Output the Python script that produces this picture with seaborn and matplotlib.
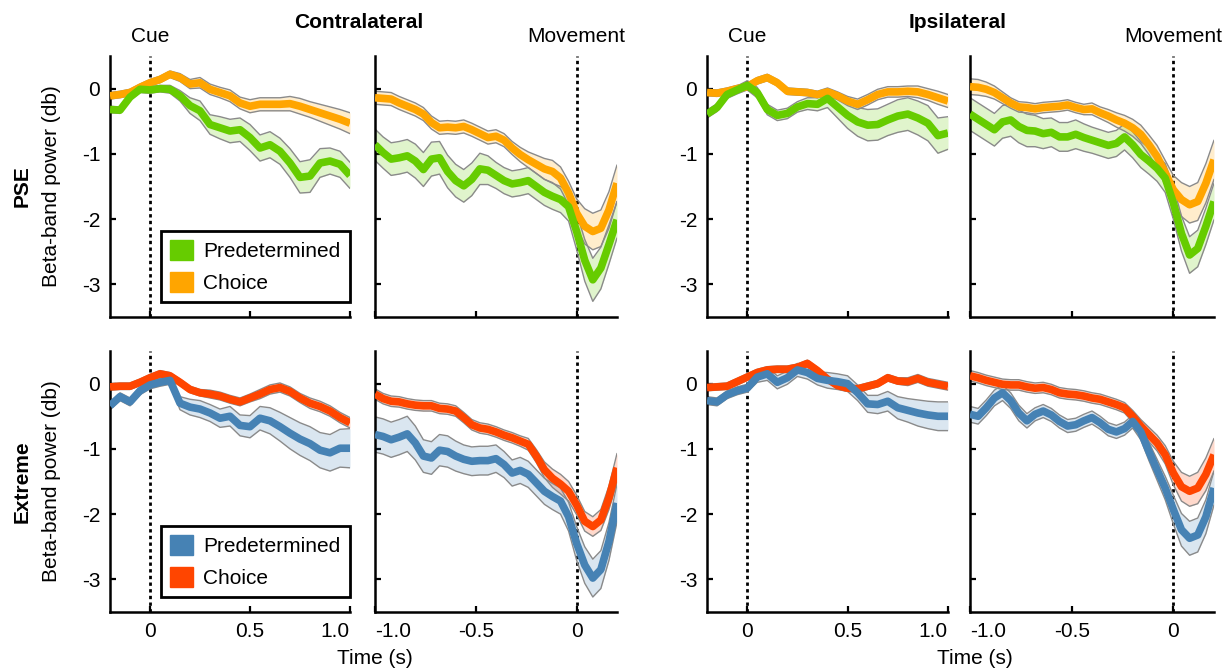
import numpy as np
import matplotlib
matplotlib.use("Agg")
import matplotlib.pyplot as plt
from matplotlib.patches import Patch
import seaborn as sns

# ---------------- data ----------------
t_cue = [-0.20, -0.15, -0.10, -0.05, 0.00, 0.05, 0.10, 0.15, 0.20, 0.25, 0.30, 0.35, 0.40,
         0.45, 0.50, 0.55, 0.60, 0.65, 0.70, 0.75, 0.80, 0.85, 0.90, 0.95, 1.00]
t_mov = [-1.00, -0.96, -0.92, -0.88, -0.84, -0.80, -0.76, -0.72, -0.68, -0.64, -0.60, -0.56,
         -0.52, -0.48, -0.44, -0.40, -0.36, -0.32, -0.28, -0.24, -0.20, -0.16, -0.12, -0.08,
         -0.04, 0.00, 0.04, 0.08, 0.12, 0.16, 0.20]

# PSE, contralateral, cue-locked
pse_contra_cue_pred = [-0.32, -0.33, -0.13, -0.01, -0.02, 0.00, -0.01, -0.11, -0.26, -0.34, -0.55, -0.60, -0.65,
                       -0.63, -0.75, -0.91, -0.86, -0.96, -1.14, -1.36, -1.34, -1.14, -1.11, -1.16, -1.33]
pse_contra_cue_pred_sem = [0.05, 0.05, 0.05, 0.05, 0.05, 0.05, 0.06, 0.08, 0.12, 0.15, 0.15, 0.17, 0.18,
                           0.18, 0.20, 0.20, 0.20, 0.20, 0.22, 0.24, 0.25, 0.22, 0.20, 0.20, 0.20]
pse_contra_cue_choice = [-0.11, -0.09, -0.06, 0.02, 0.09, 0.14, 0.22, 0.17, 0.07, 0.09, -0.01, -0.06, -0.11,
                         -0.22, -0.27, -0.24, -0.24, -0.24, -0.23, -0.27, -0.32, -0.37, -0.42, -0.47, -0.53]
pse_contra_cue_choice_sem = [0.05, 0.05, 0.05, 0.05, 0.05, 0.05, 0.05, 0.06, 0.07, 0.08, 0.08, 0.08, 0.09,
                             0.09, 0.10, 0.10, 0.10, 0.10, 0.11, 0.12, 0.12, 0.13, 0.14, 0.15, 0.16]

# PSE, contralateral, movement-locked
pse_contra_mov_pred = [-0.86, -0.98, -1.08, -1.06, -1.03, -1.11, -1.24, -1.08, -1.06, -1.27, -1.41, -1.49,
                       -1.39, -1.23, -1.25, -1.33, -1.41, -1.46, -1.44, -1.41, -1.50, -1.59, -1.65, -1.70,
                       -1.81, -2.19, -2.63, -2.93, -2.75, -2.39, -2.01]
pse_contra_mov_pred_sem = [0.24, 0.24, 0.25, 0.25, 0.25, 0.26, 0.26, 0.26, 0.25, 0.25, 0.25, 0.25, 0.25, 0.24,
                           0.22, 0.20, 0.20, 0.20, 0.20, 0.20, 0.20, 0.20, 0.20, 0.20, 0.22, 0.28, 0.32, 0.33,
                           0.32, 0.30, 0.28]
pse_contra_mov_choice = [-0.14, -0.15, -0.16, -0.22, -0.27, -0.32, -0.39, -0.52, -0.60, -0.59, -0.60, -0.58,
                         -0.63, -0.69, -0.75, -0.73, -0.79, -0.91, -1.01, -1.09, -1.16, -1.23, -1.27, -1.37,
                         -1.60, -1.91, -2.11, -2.19, -2.14, -1.86, -1.45]
pse_contra_mov_choice_sem = [0.10, 0.10, 0.10, 0.10, 0.10, 0.10, 0.10, 0.10, 0.10, 0.10, 0.10, 0.10, 0.10,
                             0.10, 0.10, 0.10, 0.10, 0.10, 0.11, 0.12, 0.14, 0.16, 0.17, 0.17, 0.18, 0.22,
                             0.27, 0.28, 0.28, 0.28, 0.28]

# PSE, ipsilateral, cue-locked
pse_ipsi_cue_pred = [-0.39, -0.29, -0.09, -0.02, 0.05, -0.06, -0.32, -0.41, -0.38, -0.28, -0.23, -0.24, -0.15,
                     -0.28, -0.41, -0.51, -0.56, -0.55, -0.48, -0.42, -0.39, -0.45, -0.53, -0.72, -0.68]
pse_ipsi_cue_pred_sem = [0.06, 0.06, 0.06, 0.06, 0.07, 0.08, 0.08, 0.08, 0.08, 0.08, 0.09, 0.10, 0.14,
                         0.17, 0.20, 0.22, 0.24, 0.24, 0.24, 0.25, 0.25, 0.26, 0.27, 0.27, 0.25]
pse_ipsi_cue_choice = [-0.06, -0.07, -0.04, 0.00, 0.03, 0.12, 0.17, 0.09, -0.04, -0.05, -0.06, -0.09, -0.05,
                       -0.11, -0.19, -0.24, -0.17, -0.09, -0.05, -0.05, -0.04, -0.05, -0.09, -0.14, -0.19]
pse_ipsi_cue_choice_sem = [0.05, 0.05, 0.05, 0.05, 0.05, 0.05, 0.05, 0.05, 0.05, 0.05, 0.05, 0.05, 0.06,
                           0.06, 0.07, 0.08, 0.08, 0.08, 0.08, 0.08, 0.08, 0.09, 0.09, 0.10, 0.10]

# PSE, ipsilateral, movement-locked
pse_ipsi_mov_pred = [-0.39, -0.47, -0.55, -0.63, -0.51, -0.48, -0.58, -0.64, -0.65, -0.69, -0.67, -0.74,
                     -0.74, -0.70, -0.75, -0.79, -0.83, -0.87, -0.84, -0.74, -0.86, -1.01, -1.11, -1.22,
                     -1.37, -1.75, -2.22, -2.55, -2.45, -2.11, -1.73]
pse_ipsi_mov_pred_sem = [0.25, 0.25, 0.25, 0.25, 0.25, 0.25, 0.25, 0.25, 0.24, 0.23, 0.22, 0.22, 0.22, 0.22,
                         0.21, 0.20, 0.20, 0.20, 0.20, 0.20, 0.20, 0.20, 0.20, 0.20, 0.22, 0.25, 0.27, 0.28,
                         0.28, 0.28, 0.28]
pse_ipsi_mov_choice = [0.03, 0.02, -0.01, -0.06, -0.14, -0.22, -0.28, -0.29, -0.31, -0.29, -0.28, -0.27,
                       -0.25, -0.29, -0.32, -0.31, -0.37, -0.42, -0.48, -0.53, -0.60, -0.70, -0.86, -1.04,
                       -1.29, -1.55, -1.70, -1.78, -1.73, -1.45, -1.09]
pse_ipsi_mov_choice_sem = [0.12, 0.12, 0.11, 0.10, 0.09, 0.08, 0.08, 0.08, 0.08, 0.08, 0.08, 0.08, 0.08,
                           0.08, 0.08, 0.09, 0.09, 0.10, 0.11, 0.12, 0.13, 0.14, 0.15, 0.17, 0.19, 0.22,
                           0.26, 0.28, 0.29, 0.30, 0.30]

# Extreme, contralateral, cue-locked
ext_contra_cue_pred = [-0.34, -0.20, -0.28, -0.11, -0.02, 0.02, 0.05, -0.30, -0.36, -0.39, -0.45, -0.53, -0.50,
                       -0.64, -0.66, -0.53, -0.57, -0.66, -0.76, -0.85, -0.92, -1.02, -1.06, -0.99, -0.99]
ext_contra_cue_pred_sem = [0.06, 0.06, 0.06, 0.06, 0.06, 0.06, 0.06, 0.10, 0.12, 0.13, 0.13, 0.14, 0.15,
                           0.16, 0.17, 0.18, 0.20, 0.22, 0.24, 0.25, 0.26, 0.27, 0.28, 0.29, 0.30]
ext_contra_cue_choice = [-0.05, -0.04, -0.04, 0.02, 0.09, 0.15, 0.12, 0.02, -0.09, -0.14, -0.16, -0.19, -0.24,
                         -0.28, -0.22, -0.16, -0.09, -0.06, -0.12, -0.22, -0.30, -0.35, -0.42, -0.52, -0.60]
ext_contra_cue_choice_sem = [0.05, 0.05, 0.05, 0.05, 0.05, 0.05, 0.05, 0.05, 0.05, 0.05, 0.06, 0.06, 0.06,
                             0.06, 0.06, 0.07, 0.07, 0.07, 0.07, 0.07, 0.08, 0.08, 0.08, 0.08, 0.08]

# Extreme, contralateral, movement-locked
ext_contra_mov_pred = [-0.78, -0.81, -0.86, -0.82, -0.77, -0.91, -1.11, -1.14, -1.02, -1.04, -1.11, -1.16,
                       -1.19, -1.18, -1.18, -1.15, -1.24, -1.37, -1.33, -1.39, -1.52, -1.65, -1.73, -1.80,
                       -2.04, -2.45, -2.78, -2.98, -2.85, -2.42, -1.83]
ext_contra_mov_pred_sem = [0.27, 0.27, 0.27, 0.27, 0.27, 0.26, 0.25, 0.25, 0.24, 0.24, 0.23, 0.22, 0.22, 0.22,
                           0.22, 0.21, 0.20, 0.20, 0.20, 0.20, 0.20, 0.20, 0.20, 0.20, 0.22, 0.26, 0.28, 0.29,
                           0.29, 0.29, 0.29]
ext_contra_mov_choice = [-0.16, -0.23, -0.27, -0.28, -0.31, -0.33, -0.34, -0.34, -0.38, -0.39, -0.42, -0.52,
                         -0.63, -0.68, -0.70, -0.74, -0.79, -0.83, -0.88, -0.93, -1.11, -1.32, -1.45, -1.54,
                         -1.65, -1.86, -2.11, -2.19, -2.09, -1.75, -1.29]
ext_contra_mov_choice_sem = [0.08, 0.08, 0.08, 0.08, 0.08, 0.08, 0.08, 0.08, 0.08, 0.08, 0.08, 0.08, 0.08,
                             0.08, 0.08, 0.08, 0.08, 0.08, 0.08, 0.09, 0.10, 0.12, 0.14, 0.15, 0.15, 0.15,
                             0.15, 0.15, 0.16, 0.18, 0.22]

# Extreme, ipsilateral, cue-locked
ext_ipsi_cue_pred = [-0.26, -0.28, -0.17, -0.11, -0.07, 0.10, 0.15, 0.02, 0.09, 0.21, 0.17, 0.08, 0.05,
                     0.03, 0.00, -0.14, -0.31, -0.32, -0.27, -0.37, -0.41, -0.45, -0.48, -0.50, -0.50]
ext_ipsi_cue_pred_sem = [0.06, 0.06, 0.06, 0.06, 0.06, 0.08, 0.10, 0.10, 0.10, 0.10, 0.10, 0.10, 0.12,
                         0.12, 0.12, 0.12, 0.13, 0.14, 0.15, 0.17, 0.18, 0.20, 0.21, 0.22, 0.22]
ext_ipsi_cue_choice = [-0.06, -0.05, -0.04, 0.03, 0.10, 0.17, 0.21, 0.22, 0.22, 0.25, 0.31, 0.20, 0.07,
                       -0.03, -0.07, -0.08, -0.04, 0.00, 0.09, 0.04, 0.03, 0.08, 0.02, -0.01, -0.04]
ext_ipsi_cue_choice_sem = [0.05, 0.05, 0.05, 0.05, 0.05, 0.05, 0.05, 0.05, 0.05, 0.05, 0.05, 0.05, 0.05,
                           0.05, 0.05, 0.05, 0.05, 0.05, 0.05, 0.05, 0.06, 0.06, 0.06, 0.06, 0.06]

# Extreme, ipsilateral, movement-locked
ext_ipsi_mov_pred = [-0.47, -0.50, -0.37, -0.22, -0.14, -0.26, -0.45, -0.57, -0.47, -0.42, -0.48, -0.58,
                     -0.65, -0.63, -0.57, -0.52, -0.60, -0.70, -0.74, -0.69, -0.58, -0.74, -1.04, -1.32,
                     -1.60, -1.93, -2.24, -2.37, -2.32, -2.04, -1.60]
ext_ipsi_mov_pred_sem = [0.12, 0.12, 0.12, 0.12, 0.12, 0.12, 0.12, 0.11, 0.10, 0.10, 0.10, 0.10, 0.10, 0.10,
                         0.10, 0.10, 0.10, 0.10, 0.10, 0.10, 0.10, 0.12, 0.14, 0.16, 0.18, 0.22, 0.25, 0.26,
                         0.26, 0.26, 0.26]
ext_ipsi_mov_choice = [0.12, 0.09, 0.05, 0.02, -0.01, -0.02, -0.02, -0.05, -0.07, -0.06, -0.09, -0.14,
                       -0.16, -0.17, -0.19, -0.22, -0.24, -0.28, -0.32, -0.37, -0.50, -0.65, -0.78, -0.91,
                       -1.09, -1.37, -1.58, -1.65, -1.60, -1.39, -1.09]
ext_ipsi_mov_choice_sem = [0.08, 0.08, 0.08, 0.08, 0.08, 0.08, 0.08, 0.08, 0.08, 0.08, 0.08, 0.08, 0.08,
                           0.08, 0.08, 0.08, 0.08, 0.08, 0.08, 0.08, 0.09, 0.10, 0.11, 0.12, 0.14, 0.18,
                           0.22, 0.23, 0.24, 0.25, 0.25]

series_labels = ["Predetermined", "Choice"]
row_labels = ["PSE", "Extreme"]
group_titles = ["Contralateral", "Ipsilateral"]
event_labels = ["Cue", "Movement"]
y_ticks = [0, -1, -2, -3]
y_ticklabels = ["0", "-1", "-2", "-3"]
cue_ticks = [0, 0.5, 1.0]
cue_ticklabels = ["0", "0.5", "1.0"]
mov_ticks = [-1.0, -0.5, 0]
mov_ticklabels = ["-1.0", "-0.5", "0"]

# ---------------- style ----------------
sns.set_theme(style="ticks")
plt.rcParams["font.family"] = ["Liberation Sans", "DejaVu Sans"]
plt.rcParams["axes.unicode_minus"] = False
plt.rcParams["text.color"] = "black"
plt.rcParams["axes.labelcolor"] = "black"
plt.rcParams["xtick.color"] = "black"
plt.rcParams["ytick.color"] = "black"
plt.rcParams["axes.edgecolor"] = "black"
FS = 15

colors = {
    "PSE": ("#66CC00", "#FFA500"),
    "Extreme": ("#4682B4", "#FF4500"),
}

W, H = 1228, 671
fig = plt.figure(figsize=(W / 100, H / 100), dpi=100)

col_px = [(110, 350), (375, 617), (707, 948), (970, 1214)]
row_px = [(56, 317), (351, 612)]


def add_ax(xr, yr):
    x0, x1 = xr
    y0, y1 = yr
    return fig.add_axes([x0 / W, 1 - y1 / H, (x1 - x0) / W, (y1 - y0) / H])


panels = {
    ("PSE", 0): (t_cue, pse_contra_cue_pred, pse_contra_cue_pred_sem, pse_contra_cue_choice, pse_contra_cue_choice_sem),
    ("PSE", 1): (t_mov, pse_contra_mov_pred, pse_contra_mov_pred_sem, pse_contra_mov_choice, pse_contra_mov_choice_sem),
    ("PSE", 2): (t_cue, pse_ipsi_cue_pred, pse_ipsi_cue_pred_sem, pse_ipsi_cue_choice, pse_ipsi_cue_choice_sem),
    ("PSE", 3): (t_mov, pse_ipsi_mov_pred, pse_ipsi_mov_pred_sem, pse_ipsi_mov_choice, pse_ipsi_mov_choice_sem),
    ("Extreme", 0): (t_cue, ext_contra_cue_pred, ext_contra_cue_pred_sem, ext_contra_cue_choice, ext_contra_cue_choice_sem),
    ("Extreme", 1): (t_mov, ext_contra_mov_pred, ext_contra_mov_pred_sem, ext_contra_mov_choice, ext_contra_mov_choice_sem),
    ("Extreme", 2): (t_cue, ext_ipsi_cue_pred, ext_ipsi_cue_pred_sem, ext_ipsi_cue_choice, ext_ipsi_cue_choice_sem),
    ("Extreme", 3): (t_mov, ext_ipsi_mov_pred, ext_ipsi_mov_pred_sem, ext_ipsi_mov_choice, ext_ipsi_mov_choice_sem),
}


def draw_series(ax, t, m, s, color):
    t = np.asarray(t)
    m = np.asarray(m)
    s = np.asarray(s)
    ax.fill_between(t, m - s, m + s, color=color, alpha=0.2, lw=0, zorder=2)
    ax.plot(t, m + s, color="#8a8a8a", lw=1.0, zorder=2.1)
    ax.plot(t, m - s, color="#8a8a8a", lw=1.0, zorder=2.1)
    sns.lineplot(x=t, y=m, color=color, linewidth=5.5, ax=ax, sort=False,
                 zorder=3, solid_capstyle="butt", solid_joinstyle="round")


for r, row in enumerate(row_labels):
    c_pred, c_choice = colors[row]
    for c in range(4):
        ax = add_ax(col_px[c], row_px[r])
        t, mp, sp, mc, sc = panels[(row, c)]
        assert len(t) == len(mp) == len(sp) == len(mc) == len(sc)
        ax.axvline(0, color="black", ls=(0, (1.2, 1.2)), lw=2.0, zorder=1.5)
        draw_series(ax, t, mc, sc, c_choice)
        draw_series(ax, t, mp, sp, c_pred)

        cue = (c % 2 == 0)
        ax.set_xlim((-0.2, 1.0) if cue else (-1.0, 0.2))
        ax.set_ylim(-3.5, 0.5)
        ax.set_yticks(y_ticks)
        ax.set_xticks(cue_ticks if cue else mov_ticks)
        if cue:
            ax.set_yticklabels(y_ticklabels)
        else:
            ax.set_yticklabels([])
        if r == 1:
            ax.set_xticklabels(cue_ticklabels if cue else mov_ticklabels)
        else:
            ax.set_xticklabels([])
        ax.tick_params(direction="in", length=4, width=1.6, labelsize=FS, pad=7,
                       color="black", labelcolor="black")
        if r == 1:
            labels = ax.get_xticklabels()
            if cue:
                labels[-1].set_horizontalalignment("right")
            else:
                labels[0].set_horizontalalignment("left")
        sns.despine(ax=ax)
        for sp_name in ("left", "bottom"):
            ax.spines[sp_name].set_linewidth(1.8)
            ax.spines[sp_name].set_color("black")
        ax.set_xlabel("")
        ax.set_ylabel("")
        ax.patch.set_alpha(0)

        if r == 0:
            ax.text(0, 1.073, event_labels[c % 2], transform=ax.get_xaxis_transform(),
                    ha="center", va="center", fontsize=FS, color="black")

        if c == 0:
            handles = [Patch(facecolor=c_pred, edgecolor=c_pred), Patch(facecolor=c_choice, edgecolor=c_choice)]
            leg = ax.legend(handles, series_labels, loc="lower right", bbox_to_anchor=(1.0, 0.057),
                            borderaxespad=0, fontsize=FS, frameon=True, fancybox=False, framealpha=1,
                            handlelength=1.1, handleheight=1.1, handletextpad=0.5, labelspacing=0.5,
                            borderpad=0.45)
            leg.get_frame().set_edgecolor("black")
            leg.get_frame().set_linewidth(2.0)

    # row labels
    yc = 1 - (row_px[r][0] + row_px[r][1]) / 2 / H
    fig.text(22 / W, yc, row, rotation=90, ha="center", va="center", fontsize=FS, fontweight="bold")
    fig.text(52 / W, yc, "Beta-band power (db)", rotation=90, ha="center", va="center", fontsize=FS)

# group titles
fig.text(359 / W, 1 - 23 / H, group_titles[0], ha="center", va="center", fontsize=FS, fontweight="bold")
fig.text(958 / W, 1 - 23 / H, group_titles[1], ha="center", va="center", fontsize=FS, fontweight="bold")
# x labels
fig.text(375 / W, 1 - 659 / H, "Time (s)", ha="center", va="center", fontsize=FS)
fig.text(975 / W, 1 - 659 / H, "Time (s)", ha="center", va="center", fontsize=FS)

fig.savefig("out.png", dpi=100, facecolor="white")
